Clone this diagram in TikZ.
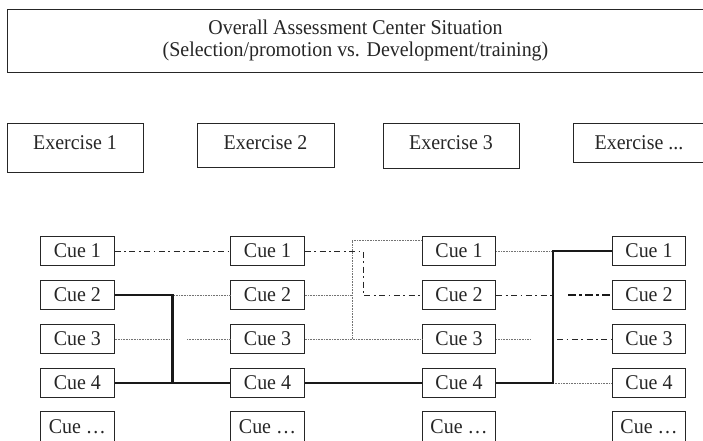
\documentclass[tikz,border=0pt]{standalone}
\usepackage{fontspec}
\setmainfont{Liberation Serif}[FakeStretch=0.95]
\begin{document}
\begin{tikzpicture}[x=1pt,y=-1pt,
  txt/.style={font=\fontsize{21}{22}\selectfont, text=black!85},
  frame/.style={draw=black!85, line width=0.9pt, inner sep=0pt, txt, align=center},
  cuebox/.style={frame, minimum width=73.5pt, minimum height=29.5pt},
  strong/.style={draw=black!90, line width=2.4pt},
  faint/.style={draw=black!55, line width=0.6pt, dash pattern=on 0.8pt off 0.8pt},
  dashdot/.style={draw=black!85, line width=0.9pt, dash pattern=on 6pt off 3.5pt on 1.8pt off 3.5pt},
  heavydashdot/.style={draw=black!90, line width=2.2pt, dash pattern=on 8pt off 3pt on 3pt off 3pt}]
\useasboundingbox (0,0) rectangle (703,441);

% situation header
\node[frame, minimum width=697pt, minimum height=63pt] (sit) at (355.5,40.5)
  {Overall Assessment Center Situation\\(Selection/promotion vs. Development/training)};

% exercises
\node[frame, minimum width=136pt, minimum height=49pt, text depth=9pt] (ex1) at (75,147.5) {Exercise 1};
\node[frame, minimum width=137pt, minimum height=44pt, text depth=5pt] (ex2) at (265.5,145) {Exercise 2};
\node[frame, minimum width=136pt, minimum height=45pt, text depth=5pt] (ex3) at (451,145.5) {Exercise 3};
\node[frame, minimum width=132pt, minimum height=39pt] (exn) at (639,142.5) {Exercise ...};

% cue columns
\foreach \c/\x in {a/77.3, b/267.5, c/459, d/649}{
  \node[cuebox] (\c1) at (\x,251) {Cue 1};
  \node[cuebox] (\c2) at (\x,295) {Cue 2};
  \node[cuebox] (\c3) at (\x,339) {Cue 3};
  \node[cuebox] (\c4) at (\x,383) {Cue 4};
  \node[cuebox] (\c5) at (\x,426.5) {Cue \dots};
}

% junctions between columns 1 and 2
\coordinate (ja2) at (172.5,295);
\coordinate (ja4) at (172.5,383);
\coordinate (ja3) at (172.5,339);
\coordinate (ka3) at (187,339);
% junctions between columns 2 and 3
\coordinate (jb2) at (363,295);
\coordinate (db1) at (352,240);
\coordinate (db2) at (352,295);
\coordinate (db3) at (352,339);
% junctions between columns 3 and 4
\coordinate (jc1) at (553,251);
\coordinate (jc2) at (553,295);
\coordinate (kc2) at (568,295);
\coordinate (jc3) at (530,339);
\coordinate (kc3) at (557,339);
\coordinate (jc4) at (553,383);

% column 1 -> column 2
\draw[dashdot] (a1.east) -- (b1.west);
\draw[faint] (ja2) -- (b2.west);
\draw[faint] (a3.east) -- (ja3);
\draw[faint] (ka3) -- (b3.west);
\draw[strong] (a2.east) -| (ja4);
\draw[strong] (a4.east) -- (b4.west);

% column 2 -> column 3
\draw[faint] (b2.east) -- (db2);
\draw[faint] (b3.east) -- (c3.west);
\draw[faint] (db3) -- (db1) -- (db1 -| c1.west);
\draw[dashdot] (b1.east) -| (jb2) -- (c2.west);
\draw[strong] (b4.east) -- (c4.west);

% column 3 -> column 4
\draw[faint] (c1.east) -- (jc1);
\draw[dashdot] (c2.east) -- (jc2);
\draw[faint] (c3.east) -- (jc3);
\draw[dashdot] (kc3) -- (d3.west);
\draw[heavydashdot] (kc2) -- (d2.west);
\draw[faint] (jc4) -- (d4.west);
\draw[strong] (c4.east) -| (jc1) -- (d1.west);
\end{tikzpicture}
\end{document}
